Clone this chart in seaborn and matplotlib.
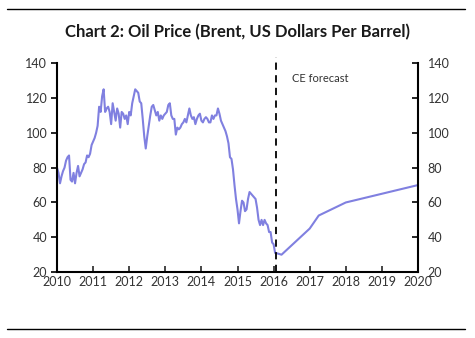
import numpy as np
import pandas as pd
import matplotlib
matplotlib.use("Agg")
import matplotlib.pyplot as plt
import seaborn as sns
from matplotlib.lines import Line2D

# Brent price, semi-monthly readings (USD/bbl), Jan 2010 - Jan 2016
actual_2010 = [80, 77, 71, 75, 78, 80, 84, 86, 87, 73, 72, 77, 71, 77, 81, 75, 77, 79, 82, 83, 87, 86, 88, 93]
actual_2011 = [95, 97, 100, 104, 115, 112, 121, 125, 112, 114, 115, 112, 105, 117, 112, 107, 114, 111, 103, 112, 111, 108, 110, 105]
actual_2012 = [112, 110, 117, 121, 125, 124, 123, 118, 117, 108, 98, 91, 98, 104, 110, 115, 116, 113, 110, 112, 107, 110, 108, 110]
actual_2013 = [111, 112, 116, 117, 110, 108, 108, 99, 103, 102, 103, 105, 106, 108, 106, 110, 114, 110, 108, 109, 105, 108, 110, 111]
actual_2014 = [107, 106, 108, 109, 108, 106, 106, 110, 108, 110, 110, 114, 111, 107, 105, 103, 101, 98, 94, 86, 85, 79, 70, 62]
actual_2015 = [56, 48, 55, 61, 60, 55, 56, 62, 66, 65, 64, 63, 62, 57, 50, 47, 50, 47, 50, 48, 47, 43, 43, 37]
actual_2016 = [36, 31]

# CE forecast (decimal year, price)
forecast_years = [2016.06, 2016.22, 2017.0, 2017.25, 2018.0, 2020.0]
forecast_values = [31, 30, 45, 52.5, 60, 70]

years = list(range(2010, 2021))
yticks = [20, 40, 60, 80, 100, 120, 140]

actual = actual_2010 + actual_2011 + actual_2012 + actual_2013 + actual_2014 + actual_2015 + actual_2016
actual_x = [2010 + i / 24 for i in range(len(actual))]
df = pd.DataFrame({"year": actual_x + forecast_years, "price": actual + forecast_values})

sns.set_style("white")
plt.rcParams["font.family"] = ["Lato", "DejaVu Sans"]

fig = plt.figure(figsize=(4.75, 3.38), dpi=100)
ax = fig.add_axes([0.12, 0.195, 0.76, 0.618])

color = "#8080E0"
sns.lineplot(data=df, x="year", y="price", ax=ax, color=color, linewidth=1.5, sort=True)

ax.axvline(2016.06, ymin=0, ymax=1.03, color="black", linestyle=(0, (4, 3)), linewidth=1.3, clip_on=False)
ax.text(2016.5, 131, "CE forecast", fontsize=8, color="#333333", va="center", ha="left")

ax.set_xlim(2010, 2020)
ax.set_ylim(20, 140)
ax.set_xticks(years)
ax.set_xticklabels([str(y) for y in years])
ax.set_yticks(yticks)
ax.set_xlabel("")
ax.set_ylabel("")

for s in ["left", "right", "bottom"]:
    ax.spines[s].set_visible(True)
    ax.spines[s].set_color("black")
    ax.spines[s].set_linewidth(1.5)
ax.spines["top"].set_visible(False)

ax.tick_params(axis="y", which="both", left=True, right=True, labelleft=True, labelright=True,
               direction="out", length=4, width=1.2, labelsize=9, colors="black",
               labelcolor="#333333", pad=3)
ax.tick_params(axis="x", direction="in", length=4, width=1.2, labelsize=9, labelcolor="#333333",
               pad=3, bottom=True)

# right-axis ticks point inward
for line in ax.yaxis.get_majorticklines()[1::2]:
    line.set_marker(matplotlib.markers.TICKLEFT)
    line.set_markersize(4)

fig.suptitle("Chart 2: Oil Price (Brent, US Dollars Per Barrel)", x=0.5, y=0.93, fontsize=12,
             fontweight="bold", color="#1a1a1a")

fig.add_artist(Line2D([0.015, 0.979], [0.973, 0.973], color="black", linewidth=1.0, transform=fig.transFigure))
fig.add_artist(Line2D([0.015, 0.979], [0.027, 0.027], color="black", linewidth=1.0, transform=fig.transFigure))

fig.savefig("out.png", dpi=100)
